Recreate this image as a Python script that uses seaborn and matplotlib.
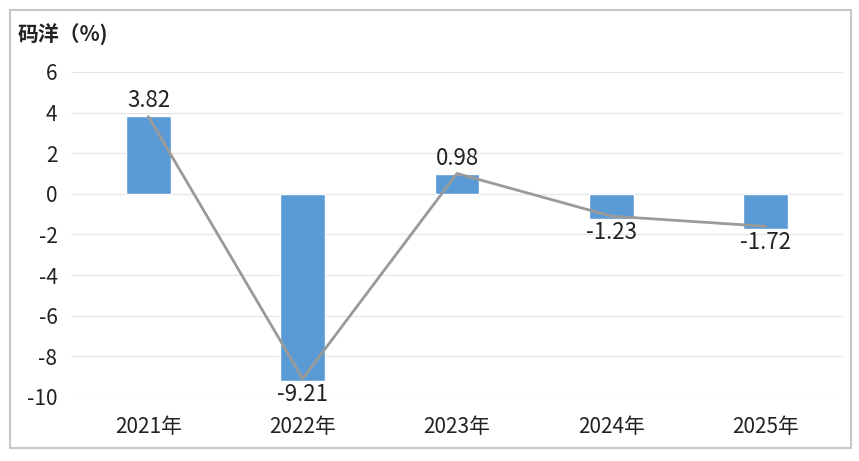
import matplotlib
matplotlib.use("Agg")
import matplotlib.pyplot as plt
import seaborn as sns
import pandas as pd
from matplotlib.patches import Rectangle

# data
years = ["2021年", "2022年", "2023年", "2024年", "2025年"]
bar_values = [3.82, -9.21, 0.98, -1.23, -1.72]
line_values = [3.8, -9.1, 1.0, -1.1, -1.6]
yticks = [6, 4, 2, 0, -2, -4, -6, -8, -10]

df = pd.DataFrame({"year": years, "bar": bar_values, "line": line_values})

sns.set_style("white")
plt.rcParams['font.family'] = ['Noto Sans CJK SC', 'DejaVu Sans']

fig = plt.figure(figsize=(8.59, 4.61), dpi=100)
ax = fig.add_axes([0.083, 0.139, 0.898, 0.705])

# grid lines
for t in yticks:
    ax.axhline(t, color="#e6e6e6", lw=0.9, zorder=0)

sns.barplot(data=df, x="year", y="bar", color="#5b9bd5", width=0.29,
            saturation=1, ax=ax, zorder=2)
ax.plot(range(len(years)), df["line"], color="#9a9a9a", lw=2, zorder=3)

# value labels
for i, v in enumerate(bar_values):
    if v >= 0:
        ax.text(i, v + 0.2, f"{v:.2f}", ha="center", va="bottom", fontsize=16, color="#222222")
    else:
        ax.text(i, v - 0.1, f"{v:.2f}", ha="center", va="top", fontsize=16, color="#222222")

ax.set_ylim(-10, 6)
ax.set_xlim(-0.5, 4.5)
ax.set_yticks(yticks)
ax.set_yticklabels([str(t) for t in yticks], fontsize=15, color="#222222")
ax.tick_params(axis="x", labelsize=15, colors="#222222", length=0, pad=14)
ax.tick_params(axis="y", length=0, pad=10)
ax.set_xlabel("")
ax.set_ylabel("")
for s in ax.spines.values():
    s.set_visible(False)

fig.text(0.021, 0.925, "码洋（%)", fontsize=15, fontweight="bold", color="#222222",
         ha="left", va="center")

# outer frame
fig.patches.append(Rectangle((0.012, 0.028), 0.979, 0.95, transform=fig.transFigure,
                             fill=False, edgecolor="#c8c8c8", lw=1.5))

fig.savefig("out.png", dpi=100)
